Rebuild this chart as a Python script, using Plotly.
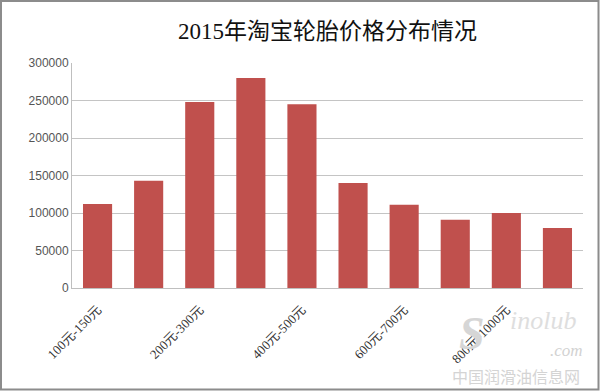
import plotly.graph_objects as go

categories = ["100元-150元", "150元-200元", "200元-300元", "300元-400元", "400元-500元",
              "500元-600元", "600元-700元", "700元-800元", "800元-1000元", "1000元以上"]
values = [112000, 143000, 248000, 280000, 245000, 140000, 111000, 91000, 100000, 80000]
shown_ticks = [categories[i] for i in range(0, 10, 2)]
y_ticks = [0, 50000, 100000, 150000, 200000, 250000, 300000]

W, H = 600, 391
L, R, T, B = 72, 17, 63, 103
pw, ph = W - L - R, H - T - B

def px(x):
    return (x - L) / pw

def py(y):
    return (H - B - y) / ph

fig = go.Figure(go.Bar(
    x=categories, y=values,
    marker=dict(color="#C0504D", line=dict(width=0)),
    width=0.57,
))

wm = dict(xref="paper", yref="paper", showarrow=False, xanchor="center", yanchor="middle")

fig.update_layout(
    width=W, height=H,
    margin=dict(l=L, r=R, t=T, b=B),
    paper_bgcolor="white", plot_bgcolor="white",
    showlegend=False,
    title=dict(text="2015年淘宝轮胎价格分布情况", x=0.5, xref="paper", xanchor="center",
               y=1 - 31 / H, yanchor="middle",
               font=dict(family="Liberation Serif, Noto Sans CJK SC", size=23, color="#111111")),
    xaxis=dict(
        type="category",
        tickmode="array", tickvals=shown_ticks, ticktext=shown_ticks,
        tickangle=-45,
        tickfont=dict(family="Liberation Serif, Noto Sans CJK SC", size=13, color="#333333"),
        ticklabelstandoff=8,
        showline=True, linecolor="#BFBFBF", linewidth=1,
        ticks="", showgrid=False,
        range=[-0.5, 9.5],
    ),
    yaxis=dict(
        range=[0, 300000],
        tickmode="array", tickvals=y_ticks, ticktext=[str(v) for v in y_ticks],
        tickfont=dict(family="Liberation Sans, DejaVu Sans", size=12, color="#555555"),
        showgrid=True, gridcolor="#C4C4C4", gridwidth=1,
        showline=True, linecolor="#BFBFBF", linewidth=1,
        zeroline=False, ticks="", ticklen=0,
    ),
    shapes=[
        dict(type="rect", xref="paper", yref="paper",
             x0=px(1), x1=px(598.5), y0=py(389.5), y1=py(1),
             line=dict(color="#8C8C8C", width=2), fillcolor="rgba(0,0,0,0)", layer="above"),
    ],
    annotations=[
        dict(text="<b><i>S</i></b>", x=px(472), y=py(333),
             font=dict(family="Liberation Serif", size=46, color="#D6D6D6"), **wm),
        dict(text="<i>inolub</i>", x=px(543), y=py(320),
             font=dict(family="Liberation Serif", size=26, color="#DEDEDE"), **wm),
        dict(text="<i>.com</i>", x=px(566), y=py(350),
             font=dict(family="Liberation Serif", size=17, color="#D2D2D2"), **wm),
        dict(text="中国润滑油信息网", x=px(516), y=py(376),
             font=dict(family="Noto Sans CJK SC", size=16, color="#D4D4D4"), **wm),
    ],
)

fig.write_html("out.html")
